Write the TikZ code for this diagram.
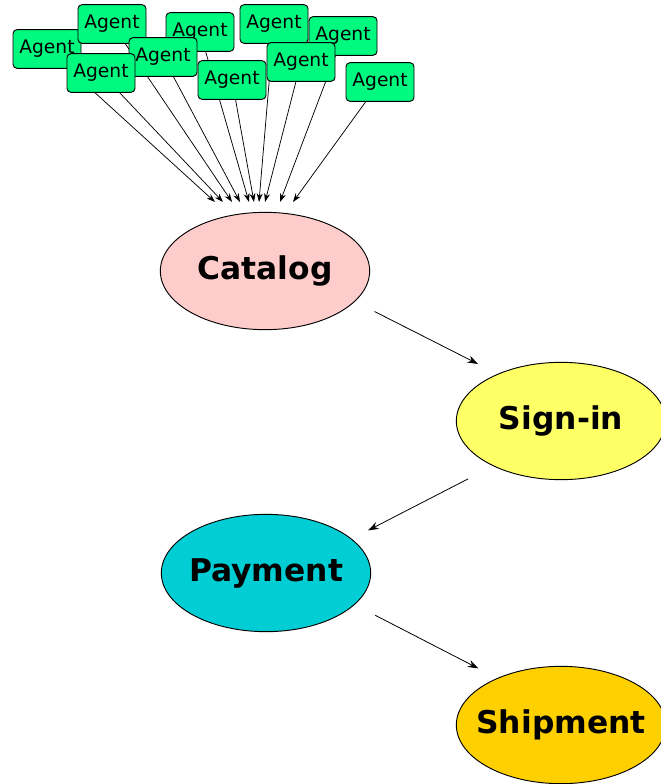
\documentclass[tikz,border=0pt]{standalone}
\usepackage{fontspec}
\setmainfont{DejaVu Sans}
\usetikzlibrary{shapes.geometric}
\usetikzlibrary{arrows.meta}
\usetikzlibrary{calc}
\usetikzlibrary{backgrounds}
\definecolor{agentgreen}{RGB}{0,250,128}
\definecolor{catpink}{RGB}{255,204,204}
\definecolor{signyellow}{RGB}{255,255,102}
\definecolor{paycyan}{RGB}{0,206,212}
\definecolor{shipgold}{RGB}{255,208,0}
\tikzset{
    agentnode/.style = {rectangle, rounded corners=3pt, draw=black, fill=agentgreen, minimum width=51pt, minimum height=29pt, inner sep=0pt, font=\fontsize{14}{14}\selectfont},
    stagenode/.style = {ellipse, draw=black, minimum width=157pt, minimum height=88pt, inner xsep=-20pt, inner ysep=0pt, font=\fontsize{23.5}{24}\selectfont\bfseries},
    catnode/.style = {stagenode, fill=catpink},
    signnode/.style = {stagenode, fill=signyellow},
    paynode/.style = {stagenode, fill=paycyan},
    shipnode/.style = {stagenode, fill=shipgold},
    feed/.style = {-{Stealth[length=6.5pt,width=4.5pt]}, black, line width=0.55pt},
    flow/.style = {-{Stealth[length=8pt,width=5.5pt]}, black, line width=0.6pt}
}

\begin{document}
\begin{tikzpicture}[x=0.75pt, y=-0.75pt, line width=0.7pt]
  \useasboundingbox (0,0) rectangle (660,784);

  % agents, back to front
  \node[agentnode] (a1) at (47,49) {Agent};
  \node[agentnode] (a2) at (112,24) {Agent};
  \node[agentnode] (a3) at (200,32) {Agent};
  \node[agentnode] (a5) at (163,57) {Agent};
  \node[agentnode] (a4) at (101,73) {Agent};
  \node[agentnode] (a7) at (343,36) {Agent};
  \node[agentnode] (a6) at (274,24) {Agent};
  \node[agentnode] (a9) at (301,62) {Agent};
  \node[agentnode] (a8) at (232,80) {Agent};
  \node[agentnode] (a10) at (380,82) {Agent};

  % arrow ends above the catalog
  \coordinate (e1) at (215,202);
  \coordinate (e2) at (232,202);
  \coordinate (e3) at (249,202);
  \coordinate (e4) at (223,202);
  \coordinate (e5) at (240,202);
  \coordinate (e6) at (259,202);
  \coordinate (e7) at (280,202);
  \coordinate (e8) at (254,202);
  \coordinate (e9) at (265,202);
  \coordinate (e10) at (293,202);

  \begin{scope}[on background layer]
    \draw[feed] (a1.center) -- (e1);
    \draw[feed] (a2.center) -- (e2);
    \draw[feed] (a3.center) -- (e3);
    \draw[feed] (a4.center) -- (e4);
    \draw[feed] (a5.center) -- (e5);
    \draw[feed] (a6.center) -- (e6);
    \draw[feed] (a7.center) -- (e7);
    \draw[feed] (a8.center) -- (e8);
    \draw[feed] (a9.center) -- (e9);
    \draw[feed] (a10.center) -- (e10);
  \end{scope}

  % stages
  \node[catnode] (cat) at (265,271) {Catalog};
  \node[signnode] (sign) at (561,421) {Sign-in};
  \node[paynode] (pay) at (266,573) {Payment};
  \node[shipnode] (ship) at (561,725) {Shipment};

  \draw[flow] ($(cat)!0.37!(sign)+(0,-15)$) -- ($(cat)!0.72!(sign)+(0,-15)$);
  \draw[flow] ($(sign)!0.315!(pay)+(0,10)$) -- ($(sign)!0.654!(pay)+(0,10)$);
  \draw[flow] ($(pay)!0.37!(ship)+(0,-14)$) -- ($(pay)!0.72!(ship)+(0,-14)$);
\end{tikzpicture}
\end{document}
